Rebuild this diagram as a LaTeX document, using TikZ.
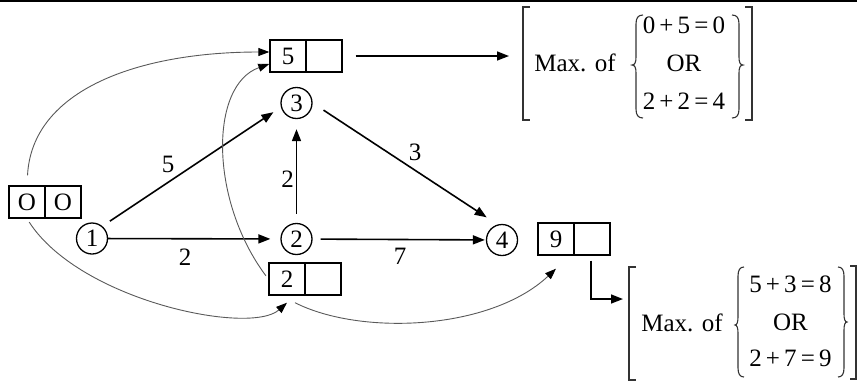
\documentclass[tikz,border=0pt]{standalone}
\usepackage{fontspec}
\setmainfont{Liberation Serif}
\usetikzlibrary{arrows.meta,calc}
\begin{document}
\begin{tikzpicture}[x=1pt,y=-1pt,
  every node/.style={font=\fontsize{25}{30}\selectfont},
  nd/.style={circle,draw,line width=1.3pt,minimum size=31pt,inner sep=0pt},
  cell/.style={draw,line width=1.4pt,minimum width=36pt,minimum height=32pt,inner sep=0pt},
  arr/.style={line width=1.6pt,-{Triangle[length=12pt,width=9pt]}},
  curv/.style={line width=0.9pt,draw=black!65,-{Triangle[length=11pt,width=8pt,color=black]}},
  lbl/.style={inner sep=0pt},
  txt/.style={inner sep=0pt},
  delim/.style={line width=1.1pt,draw=black!80}]
\useasboundingbox (0,0) rectangle (857,381);
\draw[line width=2pt] (0,1) -- (857,1);
% event circles
\node[nd] (n1) at (92,238.5) {1};
\node[nd] (n2) at (296.5,239) {2};
\node[nd] (n3) at (296.5,103) {3};
\node[nd] (n4) at (502,240) {4};
% boxes
\node[cell] (oa) at (27,202) {O};
\node[cell] (ob) at (63,202) {O};
\node[cell] (b5a) at (288,56) {5};
\node[cell] (b5b) at (324,56) {};
\node[cell] (b2a) at (287,279) {2};
\node[cell] (b2b) at (323,279) {};
\node[cell] (b9a) at (556,239) {9};
\node[cell] (b9b) at (592,239) {};
% first bracket
\node[txt] (mx1) at (575,63) {Max. of};
\node[txt] (e1a) at (684,25) {0\,+\,5\,=\,0};
\node[txt] (e1b) at (684,63.5) {OR};
\node[txt] (e1c) at (684,101.5) {2\,+\,2\,=\,4};
\coordinate (k1) at (523,63);
\draw[delim] (530,7) -- (523,7) -- (523,120) -- (530,120);
\draw[delim] (745,7) -- (752,7) -- (752,120) -- (745,120);
\draw[delim] (643,15) .. controls (638,15) and (636,18) .. (636,24) -- (636,57) .. controls (636,62) and (635,65) .. (632,65) .. controls (635,65) and (636,68) .. (636,73) -- (636,109) .. controls (636,115) and (638,118) .. (643,118);
\draw[delim] (732,15) .. controls (737,15) and (739,18) .. (739,24) -- (739,57) .. controls (739,62) and (740,65) .. (743,65) .. controls (740,65) and (739,68) .. (739,73) -- (739,109) .. controls (739,115) and (737,118) .. (732,118);
% second bracket
\node[txt] (mx2) at (682,322.5) {Max. of};
\node[txt] (e2a) at (790.5,284.5) {5\,+\,3\,=\,8};
\node[txt] (e2b) at (790.5,322) {OR};
\node[txt] (e2c) at (790.5,358.5) {2\,+\,7\,=\,9};
\coordinate (k2) at (629,323);
\draw[delim] (636,267) -- (629,267) -- (629,380) -- (636,380);
\draw[delim] (850,266) -- (856,266) -- (856,379) -- (850,379);
\draw[delim] (744,267) .. controls (740,267) and (738,270) .. (738,276) -- (738,317) .. controls (738,322) and (737,325) .. (735,325) .. controls (737,325) and (738,328) .. (738,333) -- (738,368) .. controls (738,374) and (740,377) .. (744,377);
\draw[delim] (838,267) .. controls (842,267) and (844,270) .. (844,276) -- (844,314) .. controls (844,319) and (845,322) .. (847,322) .. controls (845,322) and (844,325) .. (844,330) -- (844,368) .. controls (844,374) and (842,377) .. (838,377);
% activity arrows
\draw[arr, shorten <=9pt, shorten >=9pt] (n1.50) -- (n3.195);
\draw[arr, shorten >=10pt] (n1) -- (n2);
\draw[arr, shorten <=9pt, shorten >=10pt] (n2) -- (n3);
\draw[arr, shorten <=13pt, shorten >=13pt] (n3.east) -- (n4.106);
\draw[arr, shorten <=8pt, shorten >=1pt] (n2) -- (n4);
% labels
\node[lbl] (l13) at (168,164) {5};
\node[lbl] (l12) at (185,257) {2};
\node[lbl] (l23) at (287.5,179) {2};
\node[lbl] (l34) at (415,152) {3};
\node[lbl] (l24) at (400,256) {7};
% result arrows
\draw[arr, shorten <=13pt, shorten >=14pt] (b5b.east) -- (b5b.east -| k1);
\draw[arr, shorten <=5pt, shorten >=6pt] ([xshift=-1pt]b9b.south) |- ($(k2)+(0,-24)$);
% curved arrows
\draw[curv, shorten <=10pt] (oa.north) .. controls +(5,-96) and +(-130,0) .. ([yshift=4pt]b5a.west);
\draw[curv, shorten <=4pt] (b2a.west) .. controls +(-59,-79) and +(-60,21) .. ([yshift=-8pt]b5a.west);
\draw[curv, shorten <=4pt] (oa.south) .. controls +(53,82) and +(-37,33) .. ([yshift=-7pt]b2a.south);
\draw[curv] ([shift={(8pt,-7pt)}]b2a.south) .. controls +(65,33) and +(-66,62) .. ([yshift=-13pt]b9a.south);
\end{tikzpicture}
\end{document}
